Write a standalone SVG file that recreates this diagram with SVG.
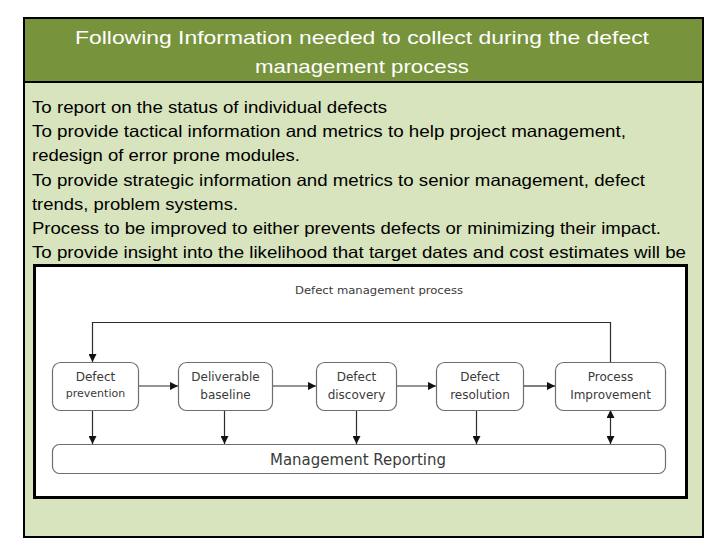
<svg xmlns="http://www.w3.org/2000/svg" width="720" height="540" viewBox="0 0 720 540">
<defs>
<style>
.body{font-family:"Liberation Sans",Arial,sans-serif;font-size:16.5px;fill:#000}
.title{font-family:"Liberation Sans",Arial,sans-serif;font-size:19px;fill:#fff}
.node rect{fill:#fff;stroke:#6e6e6e;stroke-width:1.2}
.lbl{font-family:"DejaVu Sans",Verdana,sans-serif;font-size:12px;fill:#3a3a3a;text-anchor:middle}
.conn{stroke:#2b2b2b;stroke-width:1.2;fill:none}
</style>
<marker id="ah" viewBox="0 0 10 10" refX="10" refY="5" markerWidth="8" markerHeight="8" markerUnits="userSpaceOnUse" orient="auto-start-reverse">
<path d="M0,0 L10,5 L0,10 z" fill="#111"/>
</marker>
</defs>
<rect width="720" height="540" fill="#fff"/>
<g id="frame">
<rect x="24" y="18" width="679" height="519" fill="#d8e4bd" stroke="#000" stroke-width="2"/>
<rect x="24" y="18" width="679" height="64" fill="#77933c" stroke="#000" stroke-width="2"/>
<text class="title" x="362" y="44" text-anchor="middle" textLength="574" lengthAdjust="spacingAndGlyphs">Following Information needed to collect during the defect</text>
<text class="title" x="362" y="73" text-anchor="middle" textLength="214" lengthAdjust="spacingAndGlyphs">management process</text>
</g>
<g id="bullets">
<text class="body" x="32" y="113" textLength="355" lengthAdjust="spacingAndGlyphs">To report on the status of individual defects</text>
<text class="body" x="32" y="137" textLength="594" lengthAdjust="spacingAndGlyphs">To provide tactical information and metrics to help project management,</text>
<text class="body" x="32" y="161" textLength="268" lengthAdjust="spacingAndGlyphs">redesign of error prone modules.</text>
<text class="body" x="32" y="186" textLength="613" lengthAdjust="spacingAndGlyphs">To provide strategic information and metrics to senior management, defect</text>
<text class="body" x="32" y="210" textLength="206" lengthAdjust="spacingAndGlyphs">trends, problem systems.</text>
<text class="body" x="32" y="234" textLength="629" lengthAdjust="spacingAndGlyphs">Process to be improved to either prevents defects or minimizing their impact.</text>
<text class="body" x="32" y="258" textLength="654" lengthAdjust="spacingAndGlyphs">To provide insight into the likelihood that target dates and cost estimates will be</text>
</g>
<g id="figure">
<rect x="34.5" y="265.5" width="652" height="232" fill="#fff" stroke="#000" stroke-width="3"/>
<text x="379" y="294" font-family="'DejaVu Sans',Verdana,sans-serif" font-size="11" fill="#3a3a3a" text-anchor="middle" textLength="168" lengthAdjust="spacingAndGlyphs">Defect management process</text>
</g>
<g id="connectors">
<polyline class="conn" points="610.5,362 610.5,322.5 92.5,322.5 92.5,362" marker-end="url(#ah)"/>
<line class="conn" x1="138" y1="386" x2="178" y2="386" marker-end="url(#ah)"/>
<line class="conn" x1="272" y1="386" x2="316" y2="386" marker-end="url(#ah)"/>
<line class="conn" x1="396" y1="386" x2="436" y2="386" marker-end="url(#ah)"/>
<line class="conn" x1="523" y1="386" x2="555" y2="386" marker-end="url(#ah)"/>
<line class="conn" x1="92.5" y1="410" x2="92.5" y2="444" marker-end="url(#ah)"/>
<line class="conn" x1="224.5" y1="410" x2="224.5" y2="444" marker-end="url(#ah)"/>
<line class="conn" x1="356.5" y1="410" x2="356.5" y2="444" marker-end="url(#ah)"/>
<line class="conn" x1="476.5" y1="410" x2="476.5" y2="444" marker-end="url(#ah)"/>
<line class="conn" x1="610.5" y1="410" x2="610.5" y2="444" marker-start="url(#ah)" marker-end="url(#ah)"/>
</g>
<g id="n1" class="node"><rect x="52.5" y="362.5" width="86" height="48" rx="8"/><text class="lbl" x="95.5" y="381">Defect</text><text class="lbl" x="95.5" y="397" style="font-size:11px">prevention</text></g>
<g id="n2" class="node"><rect x="178.5" y="362.5" width="94" height="48" rx="8"/><text class="lbl" x="225.5" y="381">Deliverable</text><text class="lbl" x="225.5" y="399">baseline</text></g>
<g id="n3" class="node"><rect x="316.5" y="362.5" width="80" height="48" rx="8"/><text class="lbl" x="356.5" y="381">Defect</text><text class="lbl" x="356.5" y="399">discovery</text></g>
<g id="n4" class="node"><rect x="436.5" y="362.5" width="87" height="48" rx="8"/><text class="lbl" x="480" y="381">Defect</text><text class="lbl" x="480" y="399">resolution</text></g>
<g id="n5" class="node"><rect x="555.5" y="362.5" width="110" height="48" rx="8"/><text class="lbl" x="610.5" y="381">Process</text><text class="lbl" x="610.5" y="399">Improvement</text></g>
<g id="n6" class="node"><rect x="52.5" y="444.5" width="613" height="29" rx="7"/><text class="lbl" x="358" y="465" style="font-size:15px" textLength="176" lengthAdjust="spacingAndGlyphs">Management Reporting</text></g>
</svg>
